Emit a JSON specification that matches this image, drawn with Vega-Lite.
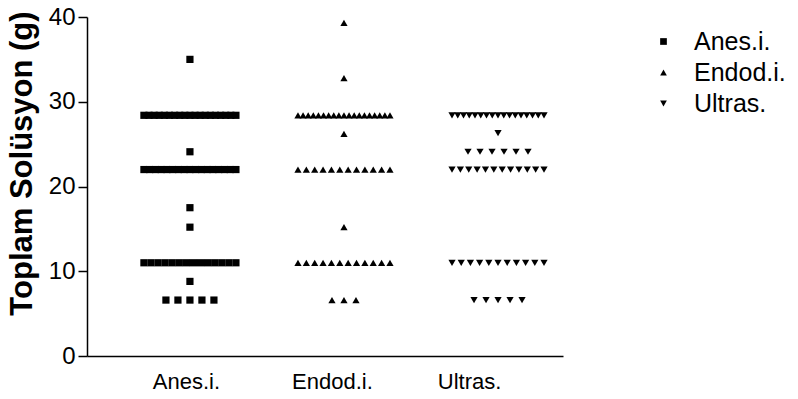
{
  "$schema": "https://vega.github.io/schema/vega-lite/v6.json",
  "width": 476,
  "height": 339,
  "autosize": "none",
  "padding": {"left": 87, "top": 17, "right": 235, "bottom": 43},
  "background": "white",
  "config": {
    "view": {"stroke": null},
    "font": "Liberation Sans",
    "axis": {"domainColor": "black", "domainWidth": 1.5, "tickColor": "black", "labelColor": "black", "titleColor": "black", "grid": false}
  },
  "data": {
    "values": [
      {"g": "Anes.i.", "v": 35},
      {"g": "Anes.i.", "v": 28.4}, {"g": "Anes.i.", "v": 28.4}, {"g": "Anes.i.", "v": 28.4}, {"g": "Anes.i.", "v": 28.4}, {"g": "Anes.i.", "v": 28.4},
      {"g": "Anes.i.", "v": 28.4}, {"g": "Anes.i.", "v": 28.4}, {"g": "Anes.i.", "v": 28.4}, {"g": "Anes.i.", "v": 28.4}, {"g": "Anes.i.", "v": 28.4},
      {"g": "Anes.i.", "v": 28.4}, {"g": "Anes.i.", "v": 28.4}, {"g": "Anes.i.", "v": 28.4}, {"g": "Anes.i.", "v": 28.4}, {"g": "Anes.i.", "v": 28.4},
      {"g": "Anes.i.", "v": 28.4}, {"g": "Anes.i.", "v": 28.4}, {"g": "Anes.i.", "v": 28.4}, {"g": "Anes.i.", "v": 28.4},
      {"g": "Anes.i.", "v": 24.1},
      {"g": "Anes.i.", "v": 22}, {"g": "Anes.i.", "v": 22}, {"g": "Anes.i.", "v": 22}, {"g": "Anes.i.", "v": 22}, {"g": "Anes.i.", "v": 22},
      {"g": "Anes.i.", "v": 22}, {"g": "Anes.i.", "v": 22}, {"g": "Anes.i.", "v": 22}, {"g": "Anes.i.", "v": 22}, {"g": "Anes.i.", "v": 22},
      {"g": "Anes.i.", "v": 22}, {"g": "Anes.i.", "v": 22}, {"g": "Anes.i.", "v": 22}, {"g": "Anes.i.", "v": 22}, {"g": "Anes.i.", "v": 22},
      {"g": "Anes.i.", "v": 22}, {"g": "Anes.i.", "v": 22},
      {"g": "Anes.i.", "v": 17.5},
      {"g": "Anes.i.", "v": 15.2},
      {"g": "Anes.i.", "v": 11}, {"g": "Anes.i.", "v": 11}, {"g": "Anes.i.", "v": 11}, {"g": "Anes.i.", "v": 11}, {"g": "Anes.i.", "v": 11},
      {"g": "Anes.i.", "v": 11}, {"g": "Anes.i.", "v": 11}, {"g": "Anes.i.", "v": 11}, {"g": "Anes.i.", "v": 11}, {"g": "Anes.i.", "v": 11},
      {"g": "Anes.i.", "v": 11}, {"g": "Anes.i.", "v": 11}, {"g": "Anes.i.", "v": 11}, {"g": "Anes.i.", "v": 11},
      {"g": "Anes.i.", "v": 8.8},
      {"g": "Anes.i.", "v": 6.6}, {"g": "Anes.i.", "v": 6.6}, {"g": "Anes.i.", "v": 6.6}, {"g": "Anes.i.", "v": 6.6}, {"g": "Anes.i.", "v": 6.6},

      {"g": "Endod.i.", "v": 39.3},
      {"g": "Endod.i.", "v": 32.8},
      {"g": "Endod.i.", "v": 28.4}, {"g": "Endod.i.", "v": 28.4}, {"g": "Endod.i.", "v": 28.4}, {"g": "Endod.i.", "v": 28.4}, {"g": "Endod.i.", "v": 28.4},
      {"g": "Endod.i.", "v": 28.4}, {"g": "Endod.i.", "v": 28.4}, {"g": "Endod.i.", "v": 28.4}, {"g": "Endod.i.", "v": 28.4}, {"g": "Endod.i.", "v": 28.4},
      {"g": "Endod.i.", "v": 28.4}, {"g": "Endod.i.", "v": 28.4}, {"g": "Endod.i.", "v": 28.4}, {"g": "Endod.i.", "v": 28.4}, {"g": "Endod.i.", "v": 28.4},
      {"g": "Endod.i.", "v": 28.4}, {"g": "Endod.i.", "v": 28.4}, {"g": "Endod.i.", "v": 28.4}, {"g": "Endod.i.", "v": 28.4},
      {"g": "Endod.i.", "v": 26.2},
      {"g": "Endod.i.", "v": 22}, {"g": "Endod.i.", "v": 22}, {"g": "Endod.i.", "v": 22}, {"g": "Endod.i.", "v": 22}, {"g": "Endod.i.", "v": 22},
      {"g": "Endod.i.", "v": 22}, {"g": "Endod.i.", "v": 22}, {"g": "Endod.i.", "v": 22}, {"g": "Endod.i.", "v": 22}, {"g": "Endod.i.", "v": 22},
      {"g": "Endod.i.", "v": 22}, {"g": "Endod.i.", "v": 22},
      {"g": "Endod.i.", "v": 15.2},
      {"g": "Endod.i.", "v": 11}, {"g": "Endod.i.", "v": 11}, {"g": "Endod.i.", "v": 11}, {"g": "Endod.i.", "v": 11}, {"g": "Endod.i.", "v": 11},
      {"g": "Endod.i.", "v": 11}, {"g": "Endod.i.", "v": 11}, {"g": "Endod.i.", "v": 11}, {"g": "Endod.i.", "v": 11}, {"g": "Endod.i.", "v": 11},
      {"g": "Endod.i.", "v": 11}, {"g": "Endod.i.", "v": 11},
      {"g": "Endod.i.", "v": 6.6}, {"g": "Endod.i.", "v": 6.6}, {"g": "Endod.i.", "v": 6.6},

      {"g": "Ultras.", "v": 28.4}, {"g": "Ultras.", "v": 28.4}, {"g": "Ultras.", "v": 28.4}, {"g": "Ultras.", "v": 28.4}, {"g": "Ultras.", "v": 28.4},
      {"g": "Ultras.", "v": 28.4}, {"g": "Ultras.", "v": 28.4}, {"g": "Ultras.", "v": 28.4}, {"g": "Ultras.", "v": 28.4}, {"g": "Ultras.", "v": 28.4},
      {"g": "Ultras.", "v": 28.4}, {"g": "Ultras.", "v": 28.4}, {"g": "Ultras.", "v": 28.4}, {"g": "Ultras.", "v": 28.4}, {"g": "Ultras.", "v": 28.4},
      {"g": "Ultras.", "v": 28.4}, {"g": "Ultras.", "v": 28.4},
      {"g": "Ultras.", "v": 26.3},
      {"g": "Ultras.", "v": 24.1}, {"g": "Ultras.", "v": 24.1}, {"g": "Ultras.", "v": 24.1}, {"g": "Ultras.", "v": 24.1}, {"g": "Ultras.", "v": 24.1},
      {"g": "Ultras.", "v": 24.1},
      {"g": "Ultras.", "v": 22}, {"g": "Ultras.", "v": 22}, {"g": "Ultras.", "v": 22}, {"g": "Ultras.", "v": 22}, {"g": "Ultras.", "v": 22},
      {"g": "Ultras.", "v": 22}, {"g": "Ultras.", "v": 22}, {"g": "Ultras.", "v": 22}, {"g": "Ultras.", "v": 22}, {"g": "Ultras.", "v": 22},
      {"g": "Ultras.", "v": 22}, {"g": "Ultras.", "v": 22},
      {"g": "Ultras.", "v": 11}, {"g": "Ultras.", "v": 11}, {"g": "Ultras.", "v": 11}, {"g": "Ultras.", "v": 11}, {"g": "Ultras.", "v": 11},
      {"g": "Ultras.", "v": 11}, {"g": "Ultras.", "v": 11}, {"g": "Ultras.", "v": 11}, {"g": "Ultras.", "v": 11}, {"g": "Ultras.", "v": 11},
      {"g": "Ultras.", "v": 11},
      {"g": "Ultras.", "v": 6.6}, {"g": "Ultras.", "v": 6.6}, {"g": "Ultras.", "v": 6.6}, {"g": "Ultras.", "v": 6.6}, {"g": "Ultras.", "v": 6.6}
    ]
  },
  "transform": [
    {"window": [{"op": "row_number", "as": "r"}, {"op": "count", "as": "n"}], "groupby": ["g", "v"], "frame": [null, null]},
    {"calculate": "(datum.r - (datum.n + 1) / 2) * min(12, 92 / max(datum.n - 1, 1))", "as": "spread"}
  ],
  "mark": {"type": "point", "filled": true, "opacity": 1, "size": 52, "color": "black"},
  "encoding": {
    "x": {
      "field": "g",
      "type": "nominal",
      "sort": ["Anes.i.", "Endod.i.", "Ultras."],
      "scale": {"type": "point", "padding": 0.545, "align": 0.613},
      "axis": {
        "title": null,
        "ticks": false,
        "labelAngle": 0,
        "labelFontSize": 22,
        "labelPadding": 15,
        "labelOffset": {"expr": "datum.value == 'Anes.i.' ? -4 : datum.value == 'Endod.i.' ? -12 : -29"}
      }
    },
    "xOffset": {"field": "spread", "type": "quantitative", "scale": {"domain": [-100, 100], "range": [-100, 100]}},
    "y": {
      "field": "v",
      "type": "quantitative",
      "scale": {"domain": [0, 40], "nice": false},
      "axis": {
        "title": "Toplam Solüsyon (g)",
        "titleFontSize": 31,
        "titleFontWeight": "bold",
        "titleX": -65,
        "titleY": 146,
        "titleAlign": "center",
        "titleBaseline": "middle",
        "titleAngle": -90,
        "values": [0, 10, 20, 30, 40],
        "labelFontSize": 24,
        "tickSize": 9,
        "tickWidth": 1.5,
        "labelPadding": 3
      }
    },
    "shape": {
      "field": "g",
      "type": "nominal",
      "scale": {"domain": ["Anes.i.", "Endod.i.", "Ultras."], "range": ["square", "triangle-up", "triangle-down"]},
      "legend": {
        "title": null,
        "orient": "none",
        "legendX": 564,
        "legendY": 12,
        "labelFontSize": 25,
        "labelColor": "black",
        "symbolFillColor": "black",
        "symbolStrokeColor": "black",
        "symbolSize": 45,
        "labelOffset": 18,
        "rowPadding": 5,
        "padding": 0
      }
    }
  }
}
